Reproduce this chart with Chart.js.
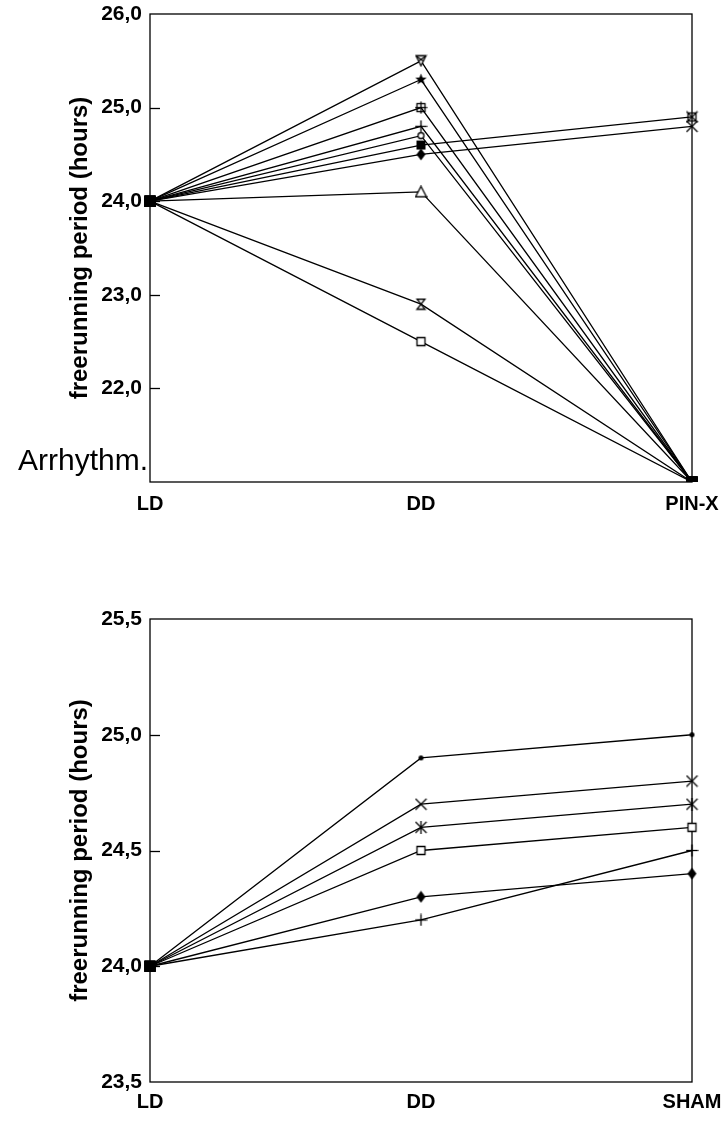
<!DOCTYPE html>
<html>
<head>
<meta charset="utf-8">
<script src="https://cdn.jsdelivr.net/npm/chart.js@4.4.0/dist/chart.umd.min.js"></script>
<style>
  html, body { margin: 0; padding: 0; background: #fff; }
  .box { position: absolute; left: 0; }
</style>
</head>
<body>
<div class="box" style="top:0"><canvas id="pinx" width="725" height="520"></canvas></div>
<div class="box" style="top:560px"><canvas id="sham" width="725" height="562"></canvas></div>
<script>
// ---- data: top chart (pinealectomy) ----
const pinLabels = ['LD', 'DD', 'PIN-X'];
const pinTriDown   = [24.0, 25.5, 21.0];
const pinStar      = [24.0, 25.3, 21.0];
const pinSqPlus    = [24.0, 25.0, 21.0];
const pinPlus      = [24.0, 24.8, 21.0];
const pinCircle    = [24.0, 24.7, 21.0];
const pinFilledSq  = [24.0, 24.6, 24.9];
const pinDiamond   = [24.0, 24.5, 24.8];
const pinTriangle  = [24.0, 24.1, 21.0];
const pinHourglass = [24.0, 22.9, 21.0];
const pinSquare    = [24.0, 22.5, 21.0];

// ---- data: bottom chart (sham operated) ----
const shamLabels = ['LD', 'DD', 'SHAM'];
const shamDot      = [24.0, 24.9, 25.0];
const shamCross    = [24.0, 24.7, 24.8];
const shamAsterisk = [24.0, 24.6, 24.7];
const shamSquare   = [24.0, 24.5, 24.6];
const shamDiamond  = [24.0, 24.3, 24.4];
const shamPlus     = [24.0, 24.2, 24.5];

Chart.defaults.color = '#000';
Chart.defaults.font.family = '"Liberation Sans", Arial, sans-serif';

// little canvases used as point styles
function marker(draw) {
  const c = document.createElement('canvas');
  c.width = c.height = 13;
  const g = c.getContext('2d');
  g.strokeStyle = '#000';
  g.fillStyle = '#000';
  g.lineWidth = 1.3;
  draw(g);
  return c;
}
function poly(g, pts, fill) {
  g.beginPath();
  g.moveTo(pts[0][0], pts[0][1]);
  pts.slice(1).forEach(p => g.lineTo(p[0], p[1]));
  g.closePath();
  if (fill) g.fill(); else { g.fillStyle = '#fff'; g.fill(); g.stroke(); }
}
function seg(g, x1, y1, x2, y2) { g.beginPath(); g.moveTo(x1, y1); g.lineTo(x2, y2); g.stroke(); }

const M = {
  blob: marker(g => g.fillRect(1, 1, 11, 11)),
  triDown: marker(g => { poly(g, [[1.5, 1.5], [11.5, 1.5], [6.5, 11.5]]); seg(g, 2, 2, 9, 7); seg(g, 11, 2, 4, 7); }),
  star: marker(g => {
    const pts = [];
    for (let i = 0; i < 10; i++) {
      const r = i % 2 ? 2.6 : 6, a = -Math.PI / 2 + i * Math.PI / 5;
      pts.push([6.5 + r * Math.cos(a), 6.5 + r * Math.sin(a)]);
    }
    poly(g, pts, true);
  }),
  sqPlus: marker(g => { g.strokeRect(2.5, 2.5, 8, 8); seg(g, 6.5, 0.5, 6.5, 12.5); seg(g, 0.5, 6.5, 12.5, 6.5); }),
  plus: marker(g => { seg(g, 6.5, 0.5, 6.5, 12.5); seg(g, 0.5, 6.5, 12.5, 6.5); }),
  circle: marker(g => { g.beginPath(); g.arc(6.5, 6.5, 3, 0, Math.PI * 2); g.fillStyle = '#fff'; g.fill(); g.stroke(); }),
  filledSq: marker(g => g.fillRect(2, 2, 9, 9)),
  diamond: marker(g => poly(g, [[6.5, 0.5], [11, 6.5], [6.5, 12.5], [2, 6.5]], true)),
  triangle: marker(g => poly(g, [[6.5, 1], [12, 11.5], [1, 11.5]])),
  hourglass: marker(g => poly(g, [[2.5, 1.5], [10.5, 1.5], [2.5, 11.5], [10.5, 11.5]])),
  square: marker(g => poly(g, [[2.5, 2.5], [10.5, 2.5], [10.5, 10.5], [2.5, 10.5]])),
  sqX: marker(g => { g.strokeRect(2.5, 2.5, 8, 8); seg(g, 1, 1, 12, 12); seg(g, 12, 1, 1, 12); }),
  cross: marker(g => { seg(g, 1, 1, 12, 12); seg(g, 12, 1, 1, 12); }),
  asterisk: marker(g => { seg(g, 1, 1, 12, 12); seg(g, 12, 1, 1, 12); seg(g, 6.5, 0, 6.5, 13); }),
  dot: marker(g => { g.beginPath(); g.arc(6.5, 6.5, 2.5, 0, Math.PI * 2); g.fill(); })
};

function series(data, styles) {
  return {
    data: data,
    borderColor: '#000',
    borderWidth: 1.3,
    tension: 0,
    pointStyle: styles,
    pointRadius: 6,
    pointBorderColor: '#000',
    pointBackgroundColor: '#000'
  };
}

const framePlugin = {
  id: 'frame',
  beforeDatasetsDraw(chart) {
    const { ctx, chartArea: a, scales: { y } } = chart;
    ctx.save();
    ctx.strokeStyle = '#000';
    ctx.lineWidth = 1.3;
    ctx.strokeRect(a.left, a.top, a.right - a.left, a.bottom - a.top);
    y.ticks.forEach(t => {
      if (t.value <= y.min || t.value >= y.max) return;
      const py = Math.round(y.getPixelForValue(t.value)) + 0.5;
      ctx.beginPath();
      ctx.moveTo(a.left, py);
      ctx.lineTo(a.left + 10, py);
      ctx.stroke();
    });
    ctx.restore();
  },
  afterDraw(chart, args, opts) {
    if (!opts.note) return;
    const ctx = chart.ctx;
    ctx.save();
    ctx.fillStyle = '#000';
    ctx.font = '30px "Liberation Sans", Arial, sans-serif';
    ctx.textAlign = 'right';
    ctx.textBaseline = 'alphabetic';
    ctx.fillText(opts.note, chart.chartArea.left - 2, chart.chartArea.bottom - 12);
    ctx.restore();
  }
};

function options(yMin, yMax, step, padTop, xHeight, xPad, note) {
  return {
    responsive: false,
    animation: false,
    layout: { padding: { top: padTop, right: 33, left: 0, bottom: 0 } },
    plugins: { legend: { display: false }, tooltip: { enabled: false }, frame: { note: note } },
    scales: {
      x: {
        type: 'category',
        offset: false,
        grid: { display: false },
        border: { display: false },
        ticks: { font: { size: 20, weight: 'bold' }, padding: xPad, maxRotation: 0 },
        afterFit: s => { s.height = xHeight; s.paddingLeft = 0; s.paddingRight = 0; }
      },
      y: {
        min: yMin,
        max: yMax,
        grid: { display: false },
        border: { display: false },
        ticks: {
          stepSize: step,
          padding: 0,
          font: { size: 21, weight: 'bold' },
          callback: v => (note && v === yMin) ? '' : v.toFixed(1).replace('.', ',')
        },
        title: {
          display: true,
          text: 'freerunning period (hours)',
          font: { size: 24, weight: 'bold' },
          padding: { top: 66, bottom: 0 }
        },
        afterFit: s => { s.width = 150; s.paddingTop = 0; s.paddingBottom = 0; }
      }
    }
  };
}

new Chart(document.getElementById('pinx'), {
  type: 'line',
  data: {
    labels: pinLabels,
    datasets: [
      series(pinTriDown,   [M.blob, M.triDown, M.blob]),
      series(pinStar,      [M.blob, M.star, M.blob]),
      series(pinSqPlus,    [M.blob, M.sqPlus, M.blob]),
      series(pinPlus,      [M.blob, M.plus, M.blob]),
      series(pinCircle,    [M.blob, M.circle, M.blob]),
      series(pinFilledSq,  [M.blob, M.filledSq, M.sqX]),
      series(pinDiamond,   [M.blob, M.diamond, M.cross]),
      series(pinTriangle,  [M.blob, M.triangle, M.blob]),
      series(pinHourglass, [M.blob, M.hourglass, M.blob]),
      series(pinSquare,    [M.blob, M.square, M.blob])
    ]
  },
  options: options(21, 26, 1, 14, 38, 2, 'Arrhythm.'),
  plugins: [framePlugin]
});

new Chart(document.getElementById('sham'), {
  type: 'line',
  data: {
    labels: shamLabels,
    datasets: [
      series(shamDot,      [M.blob, M.dot, M.dot]),
      series(shamCross,    [M.blob, M.cross, M.cross]),
      series(shamAsterisk, [M.blob, M.asterisk, M.asterisk]),
      series(shamSquare,   [M.blob, M.square, M.square]),
      series(shamDiamond,  [M.blob, M.diamond, M.diamond]),
      series(shamPlus,     [M.blob, M.plus, M.plus])
    ]
  },
  options: options(23.5, 25.5, 0.5, 59, 40, 0, null),
  plugins: [framePlugin]
});
</script>
</body>
</html>
